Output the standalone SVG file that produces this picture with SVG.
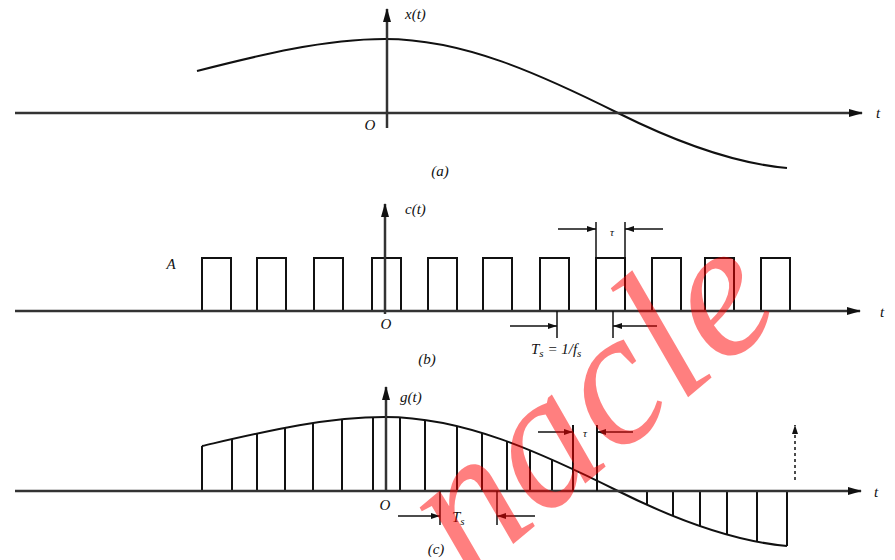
<svg xmlns="http://www.w3.org/2000/svg" width="895" height="560" viewBox="0 0 895 560">
<defs>
<marker id="ah" viewBox="0 0 14 8" refX="13" refY="4" markerWidth="14" markerHeight="8" markerUnits="userSpaceOnUse" orient="auto"><path d="M0,0 L14,4 L0,8 z" fill="#111"/></marker>
<marker id="da" viewBox="0 0 9 6" refX="9" refY="3" markerWidth="9" markerHeight="6" markerUnits="userSpaceOnUse" orient="auto"><path d="M0,0 L9,3 L0,6 z" fill="#111"/></marker>
</defs>
<style>
.ax{stroke:#333;stroke-width:2.5;fill:none}
.ln{stroke:#111;stroke-width:2;fill:none}
.dm{stroke:#111;stroke-width:1.5;fill:none}
.lb{font-family:"Liberation Serif","Times New Roman",serif;font-style:italic;font-size:15px;fill:#111}
.sm{font-size:11px}
</style>
<rect width="895" height="560" fill="#fff"/>

<g id="panel-a">
  <path d="M197,71 C260,55 324,39 385,39 C463,39 540,74 618,113 C674,141 731,163 787,168" class="ln"/>
  <text x="370" y="130" class="lb" text-anchor="middle">O</text>
  <text x="405" y="19" class="lb">x(t)</text>
  <text x="878" y="118" class="lb" text-anchor="middle">t</text>
  <text x="440" y="176" class="lb" text-anchor="middle">(a)</text>
</g>

<g id="panel-b">
  <path class="ln" d="M202,311 V258 H231 V311 M257,311 V258 H286 V311 M314,311 V258 H343 V311 M372,311 V258 H401 V311 M428,311 V258 H457 V311 M483,311 V258 H512 V311 M540,311 V258 H569 V311 M596,311 V258 H625 V311 M652,311 V258 H681 V311 M705,311 V258 H734 V311 M761,311 V258 H790 V311"/>
  <text x="171" y="269" class="lb" text-anchor="middle">A</text>
  <text x="386" y="329" class="lb" text-anchor="middle">O</text>
  <text x="405" y="214" class="lb">c(t)</text>
  <text x="882" y="317" class="lb" text-anchor="middle">t</text>
  <text x="427" y="364" class="lb" text-anchor="middle">(b)</text>
  <text x="612" y="236" class="lb sm" text-anchor="middle">τ</text>
  <text x="531" y="354" class="lb">T<tspan class="sm" dy="3">s</tspan><tspan dy="-3"> = 1/f</tspan><tspan class="sm" dy="3">s</tspan></text>
</g>

<g id="panel-c">
  <path d="M202,446 C263,432 324,417 385,417 C463,417 540,452 618,491 C674,519 731,541 787,546" class="ln"/>
  <path class="ln" d="M202,491 V446 M232,491 V439 M257,491 V433.6 M285,491 V427.9 M313,491 V422.9 M342,491 V419.3 M373,491 V417.3 M400,491 V417.7 M425,491 V420.1 M457,491 V426 M482,491 V433 M507,491 V441.5 M530,491 V450.4 M552,491 V459.6 M647,491 V504.8 M673,491 V516 M700,491 V526.2 M727,491 V534.6 M757,491 V541.8 M787,491 V546"/>
  <text x="385" y="510" class="lb" text-anchor="middle">O</text>
  <text x="400" y="402" class="lb">g(t)</text>
  <text x="876" y="497" class="lb" text-anchor="middle">t</text>
  <text x="436" y="554" class="lb" text-anchor="middle">(c)</text>
  <text x="585" y="437" class="lb sm" text-anchor="middle">τ</text>
  <text x="452" y="522" class="lb">T<tspan class="sm" dy="3">s</tspan></text>
</g>

<g id="connectors">
  <line x1="15" y1="113" x2="862" y2="113" class="ax" marker-end="url(#ah)"/>
  <line x1="387" y1="128" x2="387" y2="9" class="ax" marker-end="url(#ah)"/>
  <line x1="15" y1="311" x2="860" y2="311" class="ax" marker-end="url(#ah)"/>
  <line x1="385" y1="314" x2="385" y2="204" class="ax" marker-end="url(#ah)"/>
  <line x1="15" y1="491" x2="861" y2="491" class="ax" marker-end="url(#ah)"/>
  <line x1="386" y1="491" x2="386" y2="387" class="ax" marker-end="url(#ah)"/>
  <line x1="596" y1="222" x2="596" y2="258" class="dm"/>
  <line x1="625" y1="222" x2="625" y2="258" class="dm"/>
  <line x1="558" y1="229" x2="596" y2="229" class="dm" marker-end="url(#da)"/>
  <line x1="663" y1="229" x2="625" y2="229" class="dm" marker-end="url(#da)"/>
  <line x1="557" y1="311" x2="557" y2="338" class="dm"/>
  <line x1="613" y1="311" x2="613" y2="338" class="dm"/>
  <line x1="510" y1="326" x2="557" y2="326" class="dm" marker-end="url(#da)"/>
  <line x1="657" y1="326" x2="613" y2="326" class="dm" marker-end="url(#da)"/>
  <line x1="573" y1="425" x2="573" y2="491" class="ln"/>
  <line x1="597" y1="425" x2="597" y2="491" class="ln"/>
  <line x1="538" y1="432" x2="573" y2="432" class="dm" marker-end="url(#da)"/>
  <line x1="633" y1="432" x2="597" y2="432" class="dm" marker-end="url(#da)"/>
  <line x1="440" y1="491" x2="440" y2="525" class="dm"/>
  <line x1="497" y1="491" x2="497" y2="525" class="dm"/>
  <line x1="398" y1="516" x2="440" y2="516" class="dm" marker-end="url(#da)"/>
  <line x1="535" y1="516" x2="497" y2="516" class="dm" marker-end="url(#da)"/>
  <line x1="795" y1="480" x2="795" y2="425" class="dm" stroke-dasharray="3,3" marker-end="url(#da)"/>
</g>

<text transform="translate(468,582) rotate(-40)" font-family="Liberation Serif, serif" font-style="italic" font-size="192" fill="#ff0000" fill-opacity="0.5">nacle</text>
</svg>
